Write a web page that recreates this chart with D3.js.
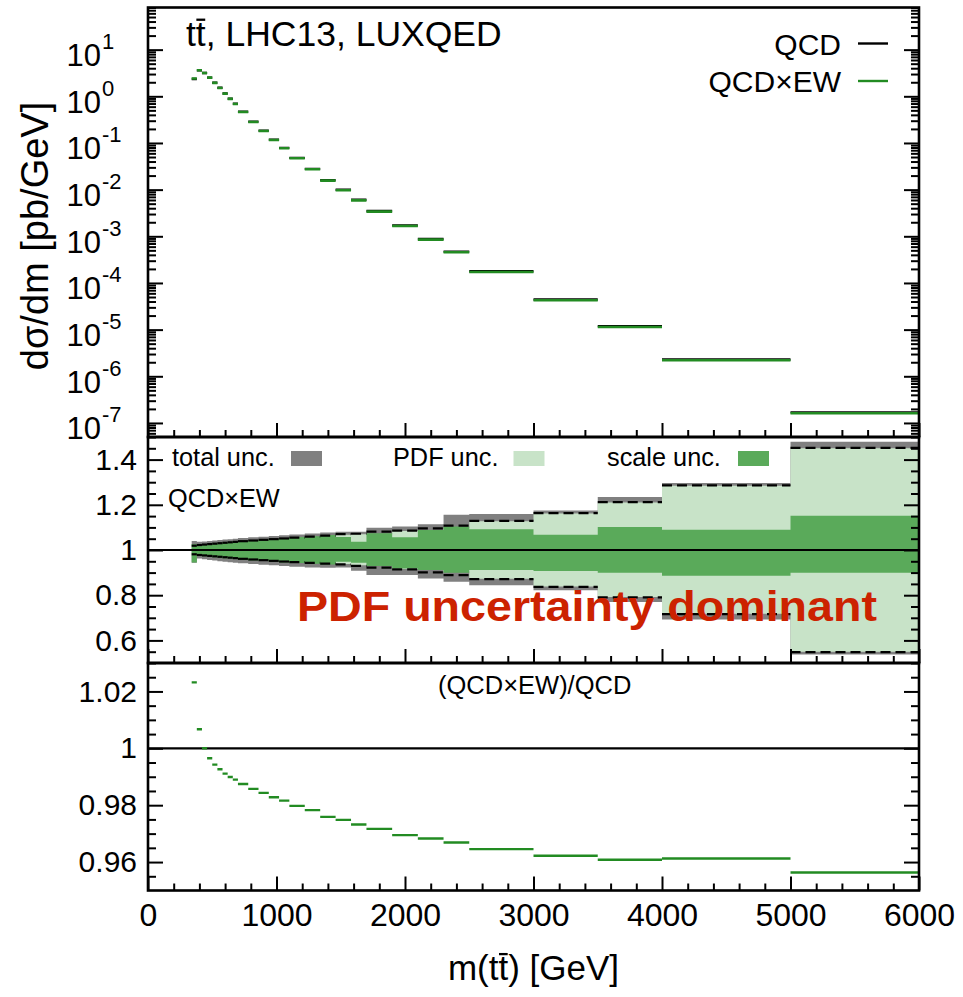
<!DOCTYPE html>
<html>
<head>
<meta charset="utf-8">
<script src="https://cdn.jsdelivr.net/npm/d3@7"></script>
<style>
  body { margin: 0; background: #fff; }
  text { font-family: 'Liberation Sans', Arial, Helvetica, sans-serif; }
</style>
</head>
<body>
<svg id="chart" width="963" height="997"></svg>
<script>
// m(tt) bin edges [GeV]
const binEdges = [340, 380, 420, 460, 500, 540, 580, 620, 660, 700, 780, 860, 940, 1020, 1100,
                  1220, 1340, 1460, 1580, 1700, 1900, 2100, 2300, 2500, 3000, 3500, 4000, 5000, 6000];

// dsigma/dm for QCDxEW [pb/GeV]
const xsecQCDxEW = [2.40, 3.62, 3.15, 2.51, 1.94, 1.51, 1.14, 0.88, 0.686, 0.461, 0.282, 0.181, 0.116,
                    0.0769, 0.0470, 0.0273, 0.0156, 0.00968, 0.0059, 0.00338, 0.00166, 0.000849,
                    0.000454, 0.000172, 4.25e-5, 1.14e-5, 2.2e-6, 1.61e-7];

// (QCDxEW)/QCD
const ratioEWoverQCD = [1.0232, 1.0067, 1.0000, 0.9965, 0.99425, 0.99263, 0.99109, 0.98993, 0.98898,
                        0.98747, 0.98572, 0.98432, 0.98281, 0.98162, 0.97975, 0.97825, 0.9759, 0.97484,
                        0.97319, 0.97168, 0.96947, 0.96828, 0.96688, 0.96456, 0.9622, 0.9608, 0.96126, 0.95635];

// relative uncertainty bands of QCDxEW
const totalUp = [1.040, 1.036, 1.038, 1.040, 1.042, 1.044, 1.046, 1.048, 1.050, 1.053, 1.056, 1.059, 1.062,
                 1.065, 1.069, 1.073, 1.077, 1.081, 1.081, 1.099, 1.104, 1.114, 1.156, 1.159, 1.175, 1.234, 1.296, 1.479];
const totalDown = [0.944, 0.962, 0.959, 0.956, 0.953, 0.950, 0.948, 0.946, 0.944, 0.941, 0.938, 0.935, 0.932,
                   0.929, 0.926, 0.923, 0.921, 0.923, 0.908, 0.889, 0.889, 0.874, 0.859, 0.844, 0.822, 0.770, 0.692, 0.538];
const pdfUp = [1.010, 1.011, 1.012, 1.013, 1.014, 1.015, 1.016, 1.017, 1.018, 1.020, 1.022, 1.024, 1.026,
               1.029, 1.032, 1.036, 1.040, 1.068, 1.070, 1.070, 1.084, 1.085, 1.095, 1.127, 1.161, 1.210, 1.284, 1.450];
const pdfDown = [0.990, 0.989, 0.988, 0.987, 0.986, 0.985, 0.984, 0.983, 0.982, 0.980, 0.978, 0.976, 0.974,
                 0.971, 0.968, 0.964, 0.960, 0.938, 0.932, 0.931, 0.916, 0.915, 0.905, 0.873, 0.839, 0.792, 0.718, 0.550];
const scaleUp = [1.025, 1.024, 1.026, 1.028, 1.030, 1.032, 1.034, 1.036, 1.038, 1.041, 1.044, 1.047, 1.050,
                 1.053, 1.057, 1.061, 1.066, 1.058, 1.037, 1.074, 1.056, 1.089, 1.104, 1.092, 1.067, 1.102, 1.090, 1.151];
const scaleDown = [0.945, 0.974, 0.972, 0.970, 0.968, 0.966, 0.964, 0.962, 0.960, 0.957, 0.954, 0.951, 0.948,
                   0.945, 0.942, 0.939, 0.936, 0.948, 0.944, 0.929, 0.918, 0.911, 0.899, 0.911, 0.907, 0.899, 0.886, 0.899];
// QCD-only envelope (dashed)
const qcdEnvUp = [1.019, 1.022, 1.024, 1.026, 1.028, 1.030, 1.032, 1.034, 1.036, 1.039, 1.042, 1.045, 1.048,
                  1.051, 1.055, 1.059, 1.064, 1.070, 1.072, 1.081, 1.086, 1.096, 1.108, 1.129, 1.163, 1.212, 1.286, 1.452];
const qcdEnvDown = [0.981, 0.978, 0.976, 0.974, 0.972, 0.970, 0.968, 0.966, 0.964, 0.961, 0.958, 0.955, 0.952,
                    0.949, 0.946, 0.943, 0.940, 0.936, 0.930, 0.922, 0.914, 0.901, 0.889, 0.871, 0.837, 0.790, 0.716, 0.548];

// axis ticks
const xMajorTicks = [0, 1000, 2000, 3000, 4000, 5000, 6000];
const topExponents = [1, 0, -1, -2, -3, -4, -5, -6, -7];
const midTicks = [0.6, 0.8, 1, 1.2, 1.4];
const midTickLabels = ["0.6", "0.8", "1", "1.2", "1.4"];
const botTicks = [0.96, 0.98, 1, 1.02];
const botTickLabels = ["0.96", "0.98", "1", "1.02"];

const COL = {
  line: "#228b22", total: "#808080", pdf: "#c8e3c8", scale: "#5aaa5a", red: "#cc2200"
};

const svg = d3.select("#chart");
const L = 148, R = 919;
const P = { top: [7.5, 437], mid: [437, 663], bot: [663, 890.5] };

const x = d3.scaleLinear().domain([0, 6000]).range([L, R]);
const yTop = d3.scaleLog().domain([5e-8, 80]).range([P.top[1], P.top[0]]);
const yMid = d3.scaleLinear().domain([0.5, 1.5]).range([P.mid[1], P.mid[0]]);
const yBot = d3.scaleLinear().domain([0.95, 1.03]).range([P.bot[1], P.bot[0]]);

const bins = d3.range(binEdges.length - 1).map(i => ({
  x0: binEdges[i], x1: binEdges[i + 1],
  ew: xsecQCDxEW[i], ratio: ratioEWoverQCD[i],
  qcd: xsecQCDxEW[i] / ratioEWoverQCD[i],
  tUp: totalUp[i], tDn: totalDown[i], pUp: pdfUp[i], pDn: pdfDown[i],
  sUp: scaleUp[i], sDn: scaleDown[i], eUp: qcdEnvUp[i], eDn: qcdEnvDown[i]
}));

// clip per panel
const defs = svg.append("defs");
Object.entries(P).forEach(([k, [a, b]]) => {
  defs.append("clipPath").attr("id", "clip-" + k)
    .append("rect").attr("x", L).attr("y", a).attr("width", R - L).attr("height", b - a);
});

// ---------- middle panel: uncertainty bands ----------
const gMid = svg.append("g").attr("clip-path", "url(#clip-mid)");
function stepBand(up, dn) {
  const pts = bins.map(b => ({ x: b.x0, up: b[up], dn: b[dn] }));
  const last = bins[bins.length - 1];
  pts.push({ x: last.x1, up: last[up], dn: last[dn] });
  return d3.area().curve(d3.curveStepAfter)
    .x(d => x(d.x)).y0(d => yMid(d.dn)).y1(d => yMid(d.up))(pts);
}
gMid.append("path").attr("d", stepBand("tUp", "tDn")).attr("fill", COL.total);
gMid.append("path").attr("d", stepBand("pUp", "pDn")).attr("fill", COL.pdf);
gMid.append("path").attr("d", stepBand("sUp", "sDn")).attr("fill", COL.scale);

const seg = d3.line();
["eUp", "eDn"].forEach(k => {
  gMid.selectAll(null).data(bins).join("path")
    .attr("d", b => seg([[x(b.x0), yMid(b[k])], [x(b.x1), yMid(b[k])]]))
    .attr("fill", "none").attr("stroke", "#000").attr("stroke-width", 2.2)
    .attr("stroke-dasharray", "10,5");
});
gMid.append("path").attr("d", seg([[x(0), yMid(1)], [x(6000), yMid(1)]]))
  .attr("stroke", "#000").attr("stroke-width", 2.2);

// ---------- top panel: distributions ----------
const gTop = svg.append("g").attr("clip-path", "url(#clip-top)");
gTop.selectAll(null).data(bins).join("path")
  .attr("d", b => seg([[x(b.x0), yTop(b.qcd)], [x(b.x1), yTop(b.qcd)]]))
  .attr("stroke", "#000").attr("stroke-width", 2.4);
gTop.selectAll(null).data(bins).join("path")
  .attr("d", b => seg([[x(b.x0), yTop(b.ew)], [x(b.x1), yTop(b.ew)]]))
  .attr("stroke", COL.line).attr("stroke-width", 2.6);

// ---------- bottom panel: ratio ----------
const gBot = svg.append("g").attr("clip-path", "url(#clip-bot)");
gBot.append("path").attr("d", seg([[x(0), yBot(1)], [x(6000), yBot(1)]]))
  .attr("stroke", "#000").attr("stroke-width", 2.2);
gBot.selectAll(null).data(bins).join("path")
  .attr("d", b => seg([[x(b.x0), yBot(b.ratio)], [x(b.x1), yBot(b.ratio)]]))
  .attr("stroke", COL.line).attr("stroke-width", 2.4);

// ---------- axes ----------
const xMinor = d3.range(0, 6001, 200).filter(v => v % 1000 !== 0);
function xAxes(panel, withLabels) {
  const yb = P[panel][1];
  const gMaj = svg.append("g").attr("transform", `translate(0,${yb})`)
    .call(d3.axisBottom(x).tickValues(xMajorTicks).tickSize(-14).tickPadding(13)
      .tickFormat(withLabels ? d3.format("d") : () => ""));
  const gMin = svg.append("g").attr("transform", `translate(0,${yb})`)
    .call(d3.axisBottom(x).tickValues(xMinor).tickSize(-7).tickFormat(() => ""));
  [gMaj, gMin].forEach(g => {
    g.select(".domain").remove();
    g.selectAll("line").attr("stroke", "#000").attr("stroke-width", 2);
  });
  gMaj.selectAll("text").attr("font-size", 32).attr("fill", "#000")
    .attr("font-family", "'Liberation Sans', Arial, sans-serif");
}
xAxes("top", false);
xAxes("mid", false);
xAxes("bot", true);

function yAxes(scale, major, minor, labels) {
  [[d3.axisLeft, L], [d3.axisRight, R]].forEach(([ax, pos], side) => {
    const gMaj = svg.append("g").attr("transform", `translate(${pos},0)`)
      .call(ax(scale).tickValues(major).tickSize(-15).tickPadding(11)
        .tickFormat((d, i) => (side === 0 && labels) ? labels[i] : ""));
    const gMin = svg.append("g").attr("transform", `translate(${pos},0)`)
      .call(ax(scale).tickValues(minor).tickSize(-8).tickFormat(() => ""));
    [gMaj, gMin].forEach(g => {
      g.select(".domain").remove();
      g.selectAll("line").attr("stroke", "#000").attr("stroke-width", 2);
    });
    gMaj.selectAll("text").attr("font-size", 30).attr("fill", "#000")
      .attr("font-family", "'Liberation Sans', Arial, sans-serif");
  });
}
// top: log decades with minor 2..9
const topMajor = topExponents.map(e => Math.pow(10, e));
const topMinor = [];
for (let e = -8; e <= 1; e++) for (let m = 2; m <= 9; m++) {
  const v = m * Math.pow(10, e);
  if (v >= 5e-8 && v <= 80) topMinor.push(v);
}
yAxes(yTop, topMajor, topMinor, null);
const midMinor = d3.range(0.55, 1.5, 0.05).map(v => +v.toFixed(2)).filter(v => !midTicks.includes(v));
yAxes(yMid, midTicks, midMinor, midTickLabels);
const botMinor = d3.range(0.955, 1.03, 0.005).map(v => +v.toFixed(3)).filter(v => !botTicks.includes(v));
yAxes(yBot, botTicks, botMinor, botTickLabels);

// 10^n labels
const expLab = svg.append("g");
topExponents.forEach(e => {
  const yy = yTop(Math.pow(10, e));
  expLab.append("text").attr("x", 101).attr("y", yy + 6).attr("text-anchor", "end")
    .attr("dominant-baseline", "central").attr("font-size", 31).text("10");
  expLab.append("text").attr("x", 102).attr("y", yy - 8).attr("text-anchor", "start")
    .attr("dominant-baseline", "central").attr("font-size", 22).text(String(e));
});

// panel frames
Object.values(P).forEach(([a, b]) => {
  svg.append("rect").attr("x", L).attr("y", a).attr("width", R - L).attr("height", b - a)
    .attr("fill", "none").attr("stroke", "#000").attr("stroke-width", 2.6);
});

// text with a bar over one character (t-bar)
function barredText(g, str, barIndex, attrs) {
  const t = g.append("text");
  Object.entries(attrs).forEach(([k, v]) => t.attr(k, v));
  t.text(str);
  const fs = +attrs["font-size"];
  const ext = t.node().getExtentOfChar(barIndex);
  const yBar = +attrs.y - 0.74 * fs;
  g.append("line").attr("x1", ext.x + 0.5).attr("x2", ext.x + ext.width - 0.5)
    .attr("y1", yBar).attr("y2", yBar).attr("stroke", "#000").attr("stroke-width", fs * 0.065);
  return t;
}

// title
barredText(svg, "tt, LHC13, LUXQED", 1, { x: 186, y: 46, "font-size": 35.5, fill: "#000" });

// top legend
const lg = svg.append("g");
[["QCD", "#000", 43.5], ["QCD×EW", COL.line, 81]].forEach(([lab, c, yy]) => {
  lg.append("text").attr("x", 841).attr("y", yy + 11).attr("text-anchor", "end")
    .attr("font-size", 30).text(lab);
  lg.append("line").attr("x1", 858).attr("x2", 888).attr("y1", yy).attr("y2", yy)
    .attr("stroke", c).attr("stroke-width", 2.4);
});

// middle legend
[["total unc.", 172, 291, COL.total], ["PDF unc.", 393, 513.5, COL.pdf], ["scale unc.", 607, 738, COL.scale]]
  .forEach(([lab, tx, sx, c]) => {
    svg.append("text").attr("x", tx).attr("y", 466).attr("font-size", 25.3).text(lab);
    svg.append("rect").attr("x", sx).attr("y", 451).attr("width", 31).attr("height", 15).attr("fill", c);
  });
svg.append("text").attr("x", 168).attr("y", 507).attr("font-size", 25.3).text("QCD×EW");

svg.append("text").attr("x", 297).attr("y", 621).attr("font-size", 43).attr("font-weight", "bold")
  .attr("fill", COL.red).attr("textLength", 580).attr("lengthAdjust", "spacingAndGlyphs")
  .text("PDF uncertainty dominant");

// bottom panel label
svg.append("text").attr("x", 438).attr("y", 694).attr("font-size", 25.5).text("(QCD×EW)/QCD");

// axis titles
barredText(svg, "m(tt) [GeV]", 3, { x: 533.5, y: 980, "font-size": 35, fill: "#000", "text-anchor": "middle" });
svg.append("text").attr("transform", "translate(48,236) rotate(-90)")
  .attr("text-anchor", "middle").attr("font-size", 38).text("dσ/dm [pb/GeV]");
</script>
</body>
</html>
